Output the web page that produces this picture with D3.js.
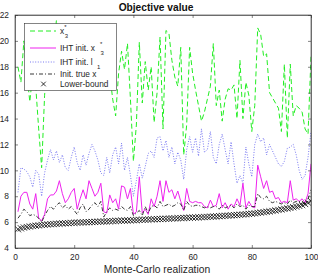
<!DOCTYPE html>
<html><head><meta charset="utf-8">
<script src="https://cdn.jsdelivr.net/npm/d3@7"></script>
<style>body{margin:0;background:#fff}svg{display:block;font-family:"Liberation Sans",Arial,sans-serif}</style>
</head><body><svg id="c" width="318" height="276"></svg>
<script>
const xTicks=[0,20,40,60,80,100];
const yTicks=[4,6,8,10,12,14,16,18,20,22];
const realization=d3.range(1,101);
const x3star=[18.0,16.8,20.0,17.5,15.3,17.5,16.5,13.2,10.2,15.8,18.5,17.0,19.5,21.6,18.0,19.5,17.5,20.5,18.0,19.0,17.0,20.0,18.5,16.5,19.5,17.8,20.5,18.8,17.2,19.5,21.3,17.5,15.5,14.2,17.5,19.2,17.8,19.8,15.5,10.7,13.5,19.9,15.2,18.4,16.2,18.0,13.7,16.0,20.3,13.2,20.8,20.6,18.5,17.2,16.5,19.5,11.2,13.5,19.5,17.5,16.2,15.0,13.8,14.5,15.5,16.5,19.8,15.0,16.2,13.8,15.5,16.3,16.2,16.6,14.0,18.5,14.0,16.8,15.8,13.0,15.0,21.0,20.5,18.8,19.0,16.0,15.6,15.2,14.8,13.0,18.2,12.5,18.2,14.2,15.0,14.8,14.5,13.2,12.8,18.8];
const ihtX3=[6.8,8.0,8.3,8.3,7.4,7.0,8.2,6.3,6.1,6.6,7.8,8.1,8.1,8.4,9.2,8.2,7.5,7.8,8.3,8.6,7.0,7.8,8.5,7.8,9.2,8.6,8.0,8.3,9.0,6.8,6.7,8.1,7.5,7.8,7.0,8.8,8.7,7.8,8.6,6.6,6.8,9.5,6.7,7.0,6.6,7.8,7.2,8.0,9.2,7.6,9.2,8.3,8.5,7.8,8.4,7.6,6.9,8.6,7.6,7.5,7.6,7.5,7.5,7.2,7.1,7.7,7.2,7.3,8.2,7.1,7.5,7.0,7.4,7.2,7.8,7.3,9.0,7.1,7.6,7.2,7.1,10.4,9.5,8.6,9.2,8.3,8.4,7.8,7.9,7.5,7.6,7.5,9.2,7.7,7.8,7.6,7.8,7.5,8.2,10.5];
const ihtL1=[8.3,10.2,10.1,9.9,9.5,8.7,10.0,9.7,8.0,9.8,10.8,11.6,10.8,11.5,10.6,11.2,10.2,10.0,11.0,11.8,10.6,10.0,11.2,10.4,11.3,12.0,11.5,10.8,9.8,9.6,11.0,9.8,11.2,11.8,10.5,12.1,10.0,11.0,9.6,8.0,9.2,10.5,9.4,10.3,11.3,11.5,11.0,12.5,12.6,11.5,12.3,11.0,11.8,10.5,11.4,10.8,9.3,11.6,12.6,11.4,12.5,11.1,13.2,11.4,11.6,13.0,11.0,10.5,12.0,12.8,11.6,10.5,12.2,10.5,9.0,9.6,9.0,11.8,10.5,9.5,12.0,12.8,12.2,12.5,11.2,12.0,11.5,11.0,10.5,10.3,10.7,11.7,11.8,12.0,11.2,10.0,9.3,9.6,11.0,13.0];
const initTrue=[6.3,6.6,7.0,6.8,6.5,6.6,6.5,6.3,6.0,6.5,6.9,7.2,7.0,7.3,7.5,7.1,7.3,7.0,7.2,6.9,6.6,7.1,7.4,6.8,7.0,7.3,7.5,7.2,7.6,6.4,6.8,7.1,6.9,7.0,6.9,7.2,7.0,6.9,7.2,6.5,6.7,6.9,6.5,7.2,6.7,7.2,7.3,7.1,7.6,7.2,7.3,7.4,7.2,7.3,7.5,7.4,6.9,7.6,7.3,7.2,7.3,7.3,7.2,7.1,7.2,7.1,7.2,7.2,7.0,7.3,7.1,7.2,7.3,7.1,7.4,7.2,7.3,7.0,7.3,7.2,7.2,8.2,7.9,7.8,8.0,7.6,7.5,7.6,7.5,7.4,7.5,7.4,7.7,7.5,7.6,7.6,7.5,7.4,7.8,8.5];
const lowerBound=[5.45,5.52,5.58,5.62,5.66,5.70,5.72,5.75,5.78,5.80,5.82,5.84,5.85,5.87,5.88,5.90,5.91,5.92,5.94,5.95,5.96,5.97,5.98,5.99,6.00,6.01,6.02,6.03,6.04,6.05,6.06,6.07,6.08,6.09,6.10,6.11,6.12,6.13,6.14,6.15,6.16,6.17,6.18,6.19,6.20,6.21,6.22,6.23,6.24,6.25,6.26,6.27,6.28,6.29,6.30,6.31,6.32,6.33,6.34,6.35,6.36,6.37,6.38,6.39,6.40,6.42,6.43,6.44,6.46,6.47,6.49,6.50,6.52,6.54,6.55,6.57,6.59,6.61,6.63,6.65,6.68,6.71,6.74,6.77,6.80,6.83,6.86,6.90,6.94,6.98,7.02,7.06,7.10,7.15,7.20,7.26,7.32,7.40,7.50,7.62];

const svg=d3.select("#c");
const L=15,R=311,T=15,B=248;
const x=d3.scaleLinear().domain([0,100]).range([L,R]);
const y=d3.scaleLinear().domain([4,22]).range([B,T]);
const txt="#262626";

svg.append("clipPath").attr("id","cp").append("rect").attr("x",L).attr("y",T).attr("width",R-L).attr("height",B-T);
const g=svg.append("g").attr("clip-path","url(#cp)");

const line=d3.line().x((d,i)=>x(realization[i])).y(d=>y(d));
const series=[
 {data:x3star,color:"#22ee22",dash:"5,3",w:1},
 {data:ihtL1,color:"#5555ee",dash:"1,1.6",w:0.8},
 {data:ihtX3,color:"#ee22ee",dash:null,w:1},
 {data:initTrue,color:"#222",dash:"4,2,1,2",w:0.9}
];
series.forEach(s=>{
  g.append("path").attr("d",line(s.data)).attr("fill","none").attr("stroke",s.color)
   .attr("stroke-width",s.w).attr("stroke-dasharray",s.dash);
});
const cross=(sel,cx,cy,r)=>{
  sel.append("path").attr("d",`M${cx-r},${cy-r}L${cx+r},${cy+r}M${cx-r},${cy+r}L${cx+r},${cy-r}`)
   .attr("stroke","#000").attr("stroke-width",0.8).attr("fill","none");
};
lowerBound.forEach((v,i)=>cross(g,x(realization[i]),y(v),3.1));

const xb=d3.axisBottom(x).tickValues(xTicks).tickSizeInner(-3).tickSizeOuter(0).tickPadding(6);
const xt=d3.axisTop(x).tickValues(xTicks).tickSizeInner(-3).tickSizeOuter(0).tickFormat("");
const yl=d3.axisLeft(y).tickValues(yTicks).tickSizeInner(-3).tickSizeOuter(0).tickPadding(6);
const yr=d3.axisRight(y).tickValues(yTicks).tickSizeInner(-3).tickSizeOuter(0).tickFormat("");
[[xb,`translate(0,${B})`],[xt,`translate(0,${T})`],[yl,`translate(${L},0)`],[yr,`translate(${R},0)`]].forEach(([a,t])=>{
  const ag=svg.append("g").attr("transform",t).call(a);
  ag.selectAll("path,line").attr("stroke","#333").attr("stroke-width",0.6);
  ag.selectAll("text").attr("fill",txt).style("font-size","8.4px").style("font-family","Liberation Sans,Arial,sans-serif");
});
svg.append("rect").attr("x",L).attr("y",T).attr("width",R-L).attr("height",B-T).attr("fill","none").attr("stroke","#333").attr("stroke-width",0.6);

svg.append("text").attr("x",(L+R)/2-7).attr("y",11).attr("text-anchor","middle").attr("fill","#111")
  .style("font-size","10.2px").style("font-weight","bold").text("Objective value");
svg.append("text").attr("x",(L+R)/2-6).attr("y",273).attr("text-anchor","middle").attr("fill",txt)
  .style("font-size","10.3px").text("Monte-Carlo realization");

const lg=svg.append("g");
lg.append("rect").attr("x",24.5).attr("y",23.5).attr("width",92).attr("height",67).attr("fill","#fff").attr("stroke","#333").attr("stroke-width",0.6);
const items=[
 {y:31,color:"#22ee22",dash:"5,3",w:1,label:"x",sup:"*",sub:"3",gap:0},
 {y:48,color:"#ee22ee",dash:null,w:1,label:"IHT init. x",sup:"*",sub:"3",gap:5},
 {y:62,color:"#5555ee",dash:"1,1.6",w:0.8,label:"IHT init. l",sup:null,sub:"1",gap:4},
 {y:74,color:"#222",dash:"4,2,1,2",w:0.9,label:"Init. true x"},
 {y:84,marker:true,label:"Lower-bound"}
];
items.forEach(it=>{
  if(it.marker){cross(lg,43.5,it.y,2.3);}
  else lg.append("line").attr("x1",30).attr("x2",56).attr("y1",it.y).attr("y2",it.y)
     .attr("stroke",it.color).attr("stroke-width",it.w).attr("stroke-dasharray",it.dash);
  const t=lg.append("text").attr("x",60).attr("y",it.y+3).attr("fill",txt).style("font-size","8.3px").text(it.label);
  const w=t.node().getComputedTextLength();
  if(it.sup) lg.append("text").attr("x",60+w+it.gap).attr("y",it.y-2).attr("fill",txt).style("font-size","6px").text(it.sup);
  if(it.sub) lg.append("text").attr("x",60+w+it.gap+0.5).attr("y",it.y+7).attr("fill",txt).style("font-size","6px").text(it.sub);
});
</script></body></html>
